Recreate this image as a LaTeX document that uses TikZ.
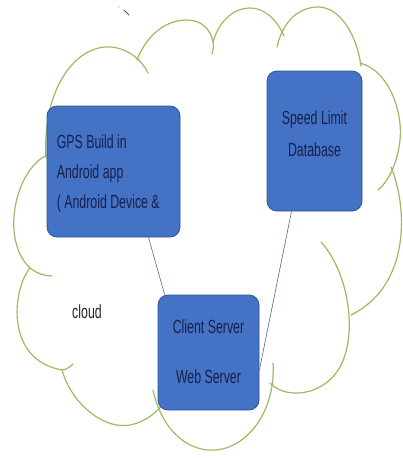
\documentclass[tikz,border=0pt]{standalone}
\usepackage{fontspec}
\setmainfont{Liberation Sans}[FakeStretch=0.65]
\usetikzlibrary{positioning}

\definecolor{cloudgreen}{RGB}{157,187,98}
\definecolor{boxblue}{RGB}{68,114,196}
\definecolor{boxedge}{RGB}{47,85,151}
\definecolor{boxink}{RGB}{24,32,76}
\definecolor{linkblue}{RGB}{80,105,150}

\tikzset{
  cloudline/.style={draw=cloudgreen, line width=1.2pt, line cap=round},
  bluebox/.style={draw=boxedge, fill=boxblue, line width=0.8pt, rounded corners=10pt},
  boxlabel/.style={text=boxink, inner sep=0pt},
  link/.style={draw=linkblue, line width=0.6pt}
}

\begin{document}
\begin{tikzpicture}[x=1pt,y=-1pt]
  \fill[white] (0,0) rectangle (403,458);
  \useasboundingbox (0,0) rectangle (403,458);

  \draw[cloudline] (46,158) .. controls (42,90) and (75,45) .. (110,47) .. controls (128,48) and (142,60) .. (148,73);
  \draw[cloudline] (137,60) .. controls (148,32) and (168,20) .. (187,20) .. controls (202,20) and (211,30) .. (213,42) .. controls (214,46) and (213,50) .. (212,54);
  \draw[cloudline] (213,42) .. controls (220,18) and (236,8) .. (250,8) .. controls (265,8) and (277,20) .. (284,36);
  \draw[cloudline] (277,47) .. controls (283,20) and (300,7) .. (318,7) .. controls (340,7) and (357,35) .. (361,66);
  \draw[cloudline] (360,63) .. controls (388,70) and (403,110) .. (400,140) .. controls (398,160) and (390,180) .. (378,190);
  \draw[cloudline] (391,167) .. controls (407,205) and (412,285) .. (351,315);
  \draw[cloudline] (321,242) .. controls (345,268) and (356,320) .. (345,355) .. controls (333,395) and (288,402) .. (270,383);
  \draw[cloudline] (153,390) .. controls (163,435) and (192,452) .. (215,450) .. controls (248,448) and (276,410) .. (273,363);
  \draw[cloudline] (62,370) .. controls (72,405) and (105,430) .. (130,425) .. controls (145,422) and (156,413) .. (162,405);
  \draw[cloudline] (30,268) .. controls (12,290) and (5,360) .. (62,370) .. controls (66,370) and (70,367) .. (73,364);
  \draw[cloudline] (47,155) .. controls (15,170) and (0,240) .. (30,268) .. controls (38,274) and (45,276) .. (52,276);

  \draw[black!65, line width=0.9pt, line cap=round] (124,10) -- (129,15);
  \fill[black!45] (119,7) circle (0.6pt);

  \node[bluebox, minimum width=133pt, minimum height=131pt] (gps) at (113.5,171.5) {};
  \node[bluebox, minimum width=95pt, minimum height=140pt] (db) at (314.5,141) {};
  \node[bluebox, minimum width=101pt, minimum height=115pt] (cs) at (208.5,352.5) {};

  \draw[link] ([xshift=35pt]gps.south) -- ([xshift=7pt]cs.north west);
  \draw[link] ([xshift=-23pt]db.south) -- ([yshift=-17.5pt]cs.east);

  \node[boxlabel, align=left, anchor=north west, font=\fontsize{19}{30}\selectfont] (gpstext)
    at ([xshift=10pt,yshift=-29pt]gps.north west) {GPS Build in\\Android app\\( Android Device \&};
  \node[boxlabel, align=center, anchor=north, font=\fontsize{19}{32}\selectfont] (dbtext)
    at ([yshift=-40pt]db.north) {Speed Limit\\Database};
  \node[boxlabel, align=center, anchor=north, font=\fontsize{19}{50}\selectfont] (cstext)
    at ([yshift=-25pt]cs.north) {Client Server\\Web Server};
  \node[text=black!85, inner sep=0pt, anchor=base, font=\fontsize{19}{20}\selectfont] (cloudlabel)
    at (87,318) {cloud};
\end{tikzpicture}
\end{document}
